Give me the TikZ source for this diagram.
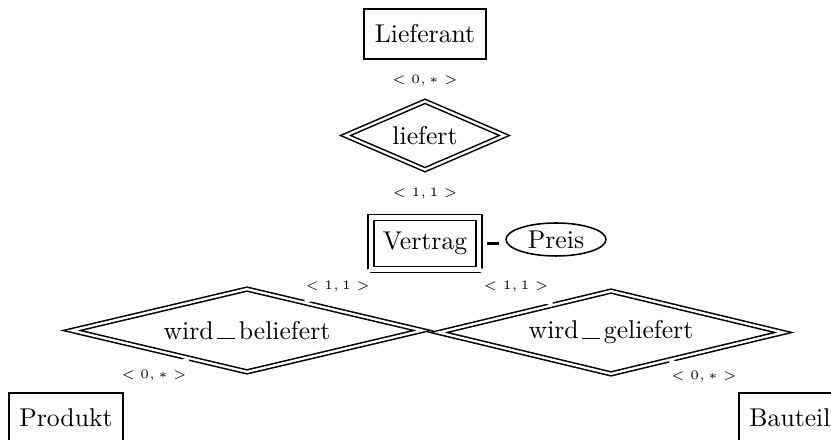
\documentclass[tikz,border=0pt]{standalone}
\usetikzlibrary{shapes.geometric}
\newlength\pxu
\setlength\pxu{0.389pt}
\newcommand\uscore{\kern1.2pt\rule{7pt}{0.45pt}\kern1.6pt}
\begin{document}
\begin{tikzpicture}[x=0.389pt,y=-0.389pt,
  ent/.style={draw,line width=0.6pt,minimum height=50.5*\pxu,inner xsep=4.1pt,inner ysep=0pt},
  rel/.style={draw,diamond,double,line width=0.6pt,double distance=0.9pt,inner sep=0pt},
  wrel/.style={draw,double,line width=0.6pt,double distance=1.6pt,inner sep=0pt},
  attr/.style={draw,ellipse,line width=0.6pt,inner sep=0pt},
  card/.style={font=\tiny,text=black,inner sep=1pt},
  conn/.style={draw=white,line width=1.5pt},
  dashline/.style={draw=black,line width=0.8pt}]
\useasboundingbox (0,0) rectangle (831,440);
\node[ent] (lief) at (425,34) {Lieferant};
\node[rel,shape aspect=2.3,minimum width=159.5*\pxu,minimum height=69*\pxu] (liefert) at (425,135.5) {liefert};
\node[wrel,minimum width=108*\pxu,minimum height=52*\pxu] (vertrag) at (425,243.5) {Vertrag};
\node[attr,minimum width=100*\pxu,minimum height=33*\pxu] (preis) at (556,239.5) {Preis};
\node[rel,shape aspect=4.2,minimum width=351*\pxu,minimum height=83.4*\pxu] (wb) at (247,330.5) {wird\uscore beliefert};
\node[rel,shape aspect=4.2,minimum width=345*\pxu,minimum height=83.4*\pxu] (wg) at (611,332.5) {wird\uscore geliefert};
\node[ent] (prod) at (66,418) {Produkt};
\node[ent] (baut) at (790,418) {Bauteil};
\path[conn,shorten <=2pt,shorten >=2pt] (lief) -- node[card]{$<0,*>$} (liefert);
\path[conn,shorten <=2pt,shorten >=2pt] (liefert) -- node[card]{$<1,1>$} (vertrag);
\path[conn] (vertrag) -- node[card]{$<1,1>$} (wb);
\path[conn] (vertrag) -- node[card]{$<1,1>$} (wg);
\path[conn,shorten >=2pt] (wb) -- node[card]{$<0,*>$} (prod);
\path[conn,shorten >=2pt] (wg) -- node[card]{$<0,*>$} (baut);
\path[dashline,shorten <=3pt,shorten >=2.5pt] (vertrag.east) -- (vertrag.east -| preis.west);
\end{tikzpicture}
\end{document}
